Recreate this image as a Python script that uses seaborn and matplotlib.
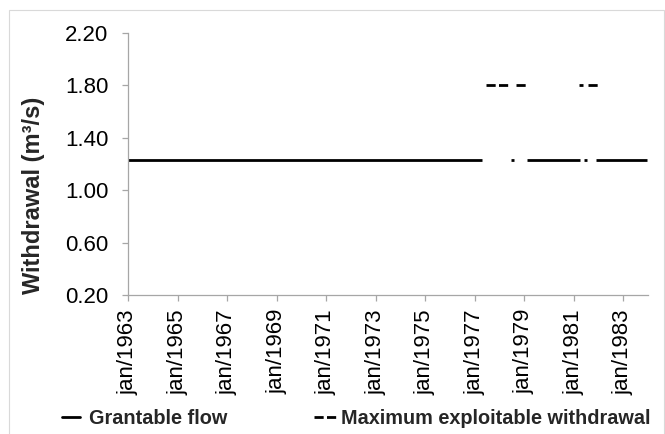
import pandas as pd
import numpy as np
import matplotlib.pyplot as plt
from matplotlib.lines import Line2D
from matplotlib.patches import Rectangle
import seaborn as sns

# segments of each series (start, end) - gaps between them are missing data
grantable_value = 1.23
grantable_start = ['1963-01-01', '1978-06-20', '1979-02-15', '1981-05-28', '1981-11-20']
grantable_end = ['1977-04-22', '1978-07-28', '1981-03-28', '1981-07-18', '1983-12-15']

max_value = 1.80
max_start = ['1977-06-10', '1978-08-28', '1981-03-20', '1981-07-30']
max_end = ['1978-05-22', '1979-02-05', '1981-05-18', '1981-12-25']

tick_years = list(range(1963, 1985, 2))
y_ticks = [0.20, 0.60, 1.00, 1.40, 1.80, 2.20]

rows = []
for i, (s, e) in enumerate(zip(grantable_start, grantable_end)):
    rows.append(('Grantable flow', 'g%d' % i, s, grantable_value))
    rows.append(('Grantable flow', 'g%d' % i, e, grantable_value))
for i, (s, e) in enumerate(zip(max_start, max_end)):
    rows.append(('Maximum exploitable withdrawal', 'm%d' % i, s, max_value))
    rows.append(('Maximum exploitable withdrawal', 'm%d' % i, e, max_value))
df = pd.DataFrame(rows, columns=['series', 'seg', 'date', 'value'])
df['date'] = pd.to_datetime(df['date'])

sns.set_style('white')
plt.rcParams['font.family'] = ['Liberation Sans', 'DejaVu Sans']

fig = plt.figure(figsize=(6.65, 4.34), dpi=100)
ax = fig.add_axes([0.1925, 0.32, 0.782, 0.604])

lw = 2.0
dash = (3.3, 1.2)
sns.lineplot(data=df, x='date', y='value', units='seg', estimator=None,
             style='series', dashes={'Grantable flow': '', 'Maximum exploitable withdrawal': dash},
             color='black', linewidth=lw, legend=False, ax=ax,
             solid_capstyle='butt', dash_capstyle='butt')

ax.set_xlim(pd.Timestamp('1963-01-01'), pd.Timestamp('1984-01-01'))
ax.set_ylim(0.20, 2.20)
ax.set_yticks(y_ticks)
ax.set_yticklabels(['%.2f' % v for v in y_ticks], fontsize=16)
ax.set_xticks([pd.Timestamp('%d-01-01' % y) for y in tick_years])
ax.set_xticklabels(['jan/%d' % y for y in tick_years], rotation=90, fontsize=16)
ax.set_xlabel('')
ax.set_ylabel('Withdrawal (m³/s)', fontsize=17, fontweight='bold')
ax.yaxis.set_label_coords(-0.16, 0.38)

for side in ['top', 'right']:
    ax.spines[side].set_visible(False)
for side in ['left', 'bottom']:
    ax.spines[side].set_color('#a6a6a6')
    ax.spines[side].set_linewidth(0.9)
ax.tick_params(axis='both', which='major', direction='out', length=4, width=0.9,
               color='#a6a6a6', labelcolor='black', left=True, bottom=True)
ax.tick_params(axis='y', pad=10)
ax.tick_params(axis='x', pad=6)

leg_font = {'weight': 'bold', 'size': 14.3}
leg1 = fig.legend([Line2D([], [], color='black', lw=lw)], ['Grantable flow'],
                  loc='center left', bbox_to_anchor=(62 / 665, 0.035), frameon=False,
                  borderpad=0, borderaxespad=0, handlelength=0.9, handletextpad=0.45,
                  prop=leg_font)
leg2 = fig.legend([Line2D([], [], color='black', lw=lw, dashes=dash)],
                  ['Maximum exploitable withdrawal'],
                  loc='center left', bbox_to_anchor=(314 / 665, 0.035), frameon=False,
                  borderpad=0, borderaxespad=0, handlelength=1.2, handletextpad=0.15,
                  prop=leg_font)

fig.patches.append(Rectangle((9 / 665, -0.05), 655 / 665, 1.05 - 10 / 434, transform=fig.transFigure,
                             fill=False, edgecolor='#d9d9d9', linewidth=0.8))

fig.savefig('out.png', dpi=100)
